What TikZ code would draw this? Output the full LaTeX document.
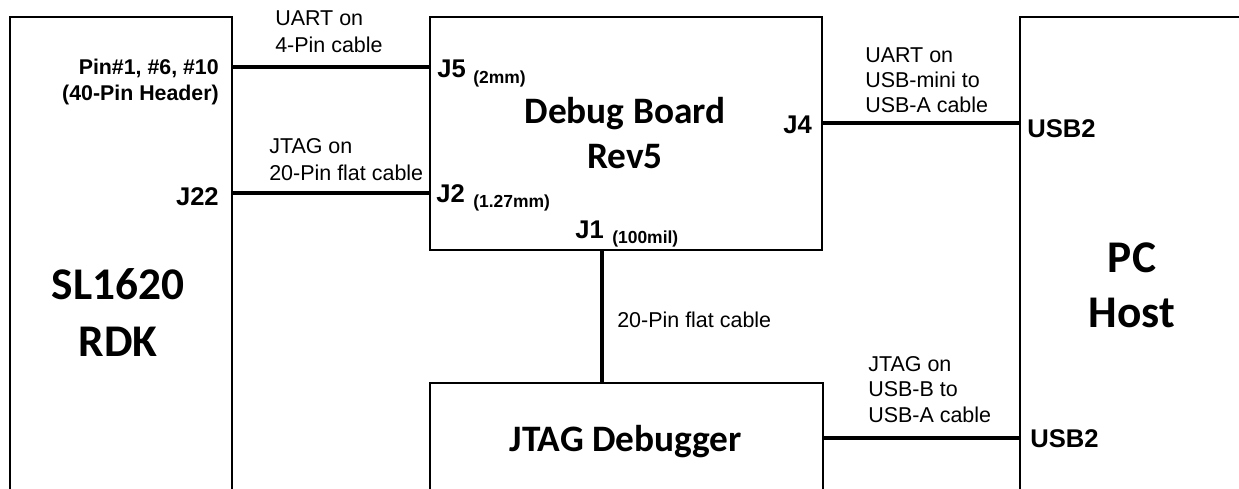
\documentclass[tikz,border=0pt]{standalone}
\usepackage{fontspec}
\setmainfont{Liberation Sans}
\newfontfamily\calfont{Carlito}
\begin{document}
\begin{tikzpicture}[x=0.75pt,y=-0.75pt,
  box/.style={draw, line width=1.7pt, rectangle, inner sep=0pt},
  wire/.style={line width=3.7pt},
  lbl/.style={font=\fontsize{16.1}{19}\selectfont, inner sep=0pt},
  blbl/.style={font=\bfseries\fontsize{16}{19}\selectfont, inner sep=0pt},
  jlbl/.style={font=\bfseries\fontsize{19.2}{22}\selectfont, inner sep=0pt},
  slbl/.style={font=\bfseries\fontsize{13.1}{15}\selectfont, inner sep=0pt},
  ttl/.style={font=\calfont\bfseries\fontsize{28}{32}\selectfont, inner sep=0pt},
  bigttl/.style={font=\calfont\bfseries\fontsize{34}{38}\selectfont, inner sep=0pt}]
\useasboundingbox (0,0) rectangle (1239,489);
\clip (0,0) rectangle (1239,489);

% boxes
\node[box, minimum width=166.5pt, minimum height=377.25pt] (rdk) at (121,268.5) {};
\node[box, minimum width=294pt, minimum height=174.75pt] (dbg) at (626,133.5) {};
\node[box, minimum width=294.75pt, minimum height=102.75pt] (jtag) at (626.5,451.5) {};
\node[box, minimum width=180pt, minimum height=377.25pt] (pc) at (1140,268.5) {};

% connector levels
\coordinate (c5) at (0,67);
\coordinate (c22) at (0,193);
\coordinate (c4) at (0,123);
\coordinate (cu) at (0,438);
\coordinate (cj1) at (602,0);

\draw[wire] (rdk.east |- c5) -- (dbg.west |- c5);
\draw[wire] (rdk.east |- c22) -- (dbg.west |- c22);
\draw[wire] (dbg.east |- c4) -- (pc.west |- c4);
\draw[wire] (jtag.east |- cu) -- (pc.west |- cu);
\draw[wire] (dbg.south -| cj1) -- (jtag.north -| cj1);

% titles
\node[bigttl, anchor=base] (t1) at (118,299) {SL1620};
\node[bigttl, anchor=base] (t2) at (118,356) {RDK};
\node[bigttl, anchor=base] (t3) at (1132,272) {PC};
\node[bigttl, anchor=base] (t4) at (1132,327) {Host};
\node[ttl, anchor=base] (t5) at (625,123) {Debug Board};
\node[ttl, anchor=base] (t6) at (625,168) {Rev5};
\node[ttl, anchor=base] (t7) at (626,451) {JTAG Debugger};

% left side labels
\node[blbl, anchor=base east] (p1) at (219,74) {Pin\#1, \#6, \#10};
\node[blbl, anchor=base east] (p2) at (219,100) {(40-Pin Header)};
\node[jlbl, anchor=base east] (j22) at (219,205) {J22};

% cable labels
\node[lbl, anchor=base west] (u1) at (275,26) {UART on};
\node[lbl, anchor=base west] (u2) at (275,52) {4-Pin cable};
\node[lbl, anchor=base west] (g1) at (269,153) {JTAG on};
\node[lbl, anchor=base west] (g2) at (269,180) {20-Pin flat cable};
\node[lbl, anchor=base west] (f1) at (617,327) {20-Pin flat cable};
\node[lbl, anchor=base west] (m1) at (865,62) {UART on};
\node[lbl, anchor=base west] (m2) at (865,87) {USB-mini to};
\node[lbl, anchor=base west] (m3) at (865,112) {USB-A cable};
\node[lbl, anchor=base west] (b1) at (868,371) {JTAG on};
\node[lbl, anchor=base west] (b2) at (868,396) {USB-B to};
\node[lbl, anchor=base west] (b3) at (868,422) {USB-A cable};

% connector names on debug board
\node[jlbl, anchor=base west] (j5) at (437,77) {J5};
\node[slbl, anchor=base west] (j5s) at (473,83) {(2mm)};
\node[jlbl, anchor=base west] (j2) at (436,202) {J2};
\node[slbl, anchor=base west] (j2s) at (473,207) {(1.27mm)};
\node[jlbl, anchor=base west] (j1) at (575,238) {J1};
\node[slbl, anchor=base west] (j1s) at (612,243) {(100mil)};
\node[jlbl, anchor=base east] (j4) at (812,133) {J4};

% PC ports
\node[jlbl, anchor=base west] (usb1) at (1027,137) {USB2};
\node[jlbl, anchor=base west] (usb2) at (1030,447) {USB2};
\end{tikzpicture}
\end{document}
